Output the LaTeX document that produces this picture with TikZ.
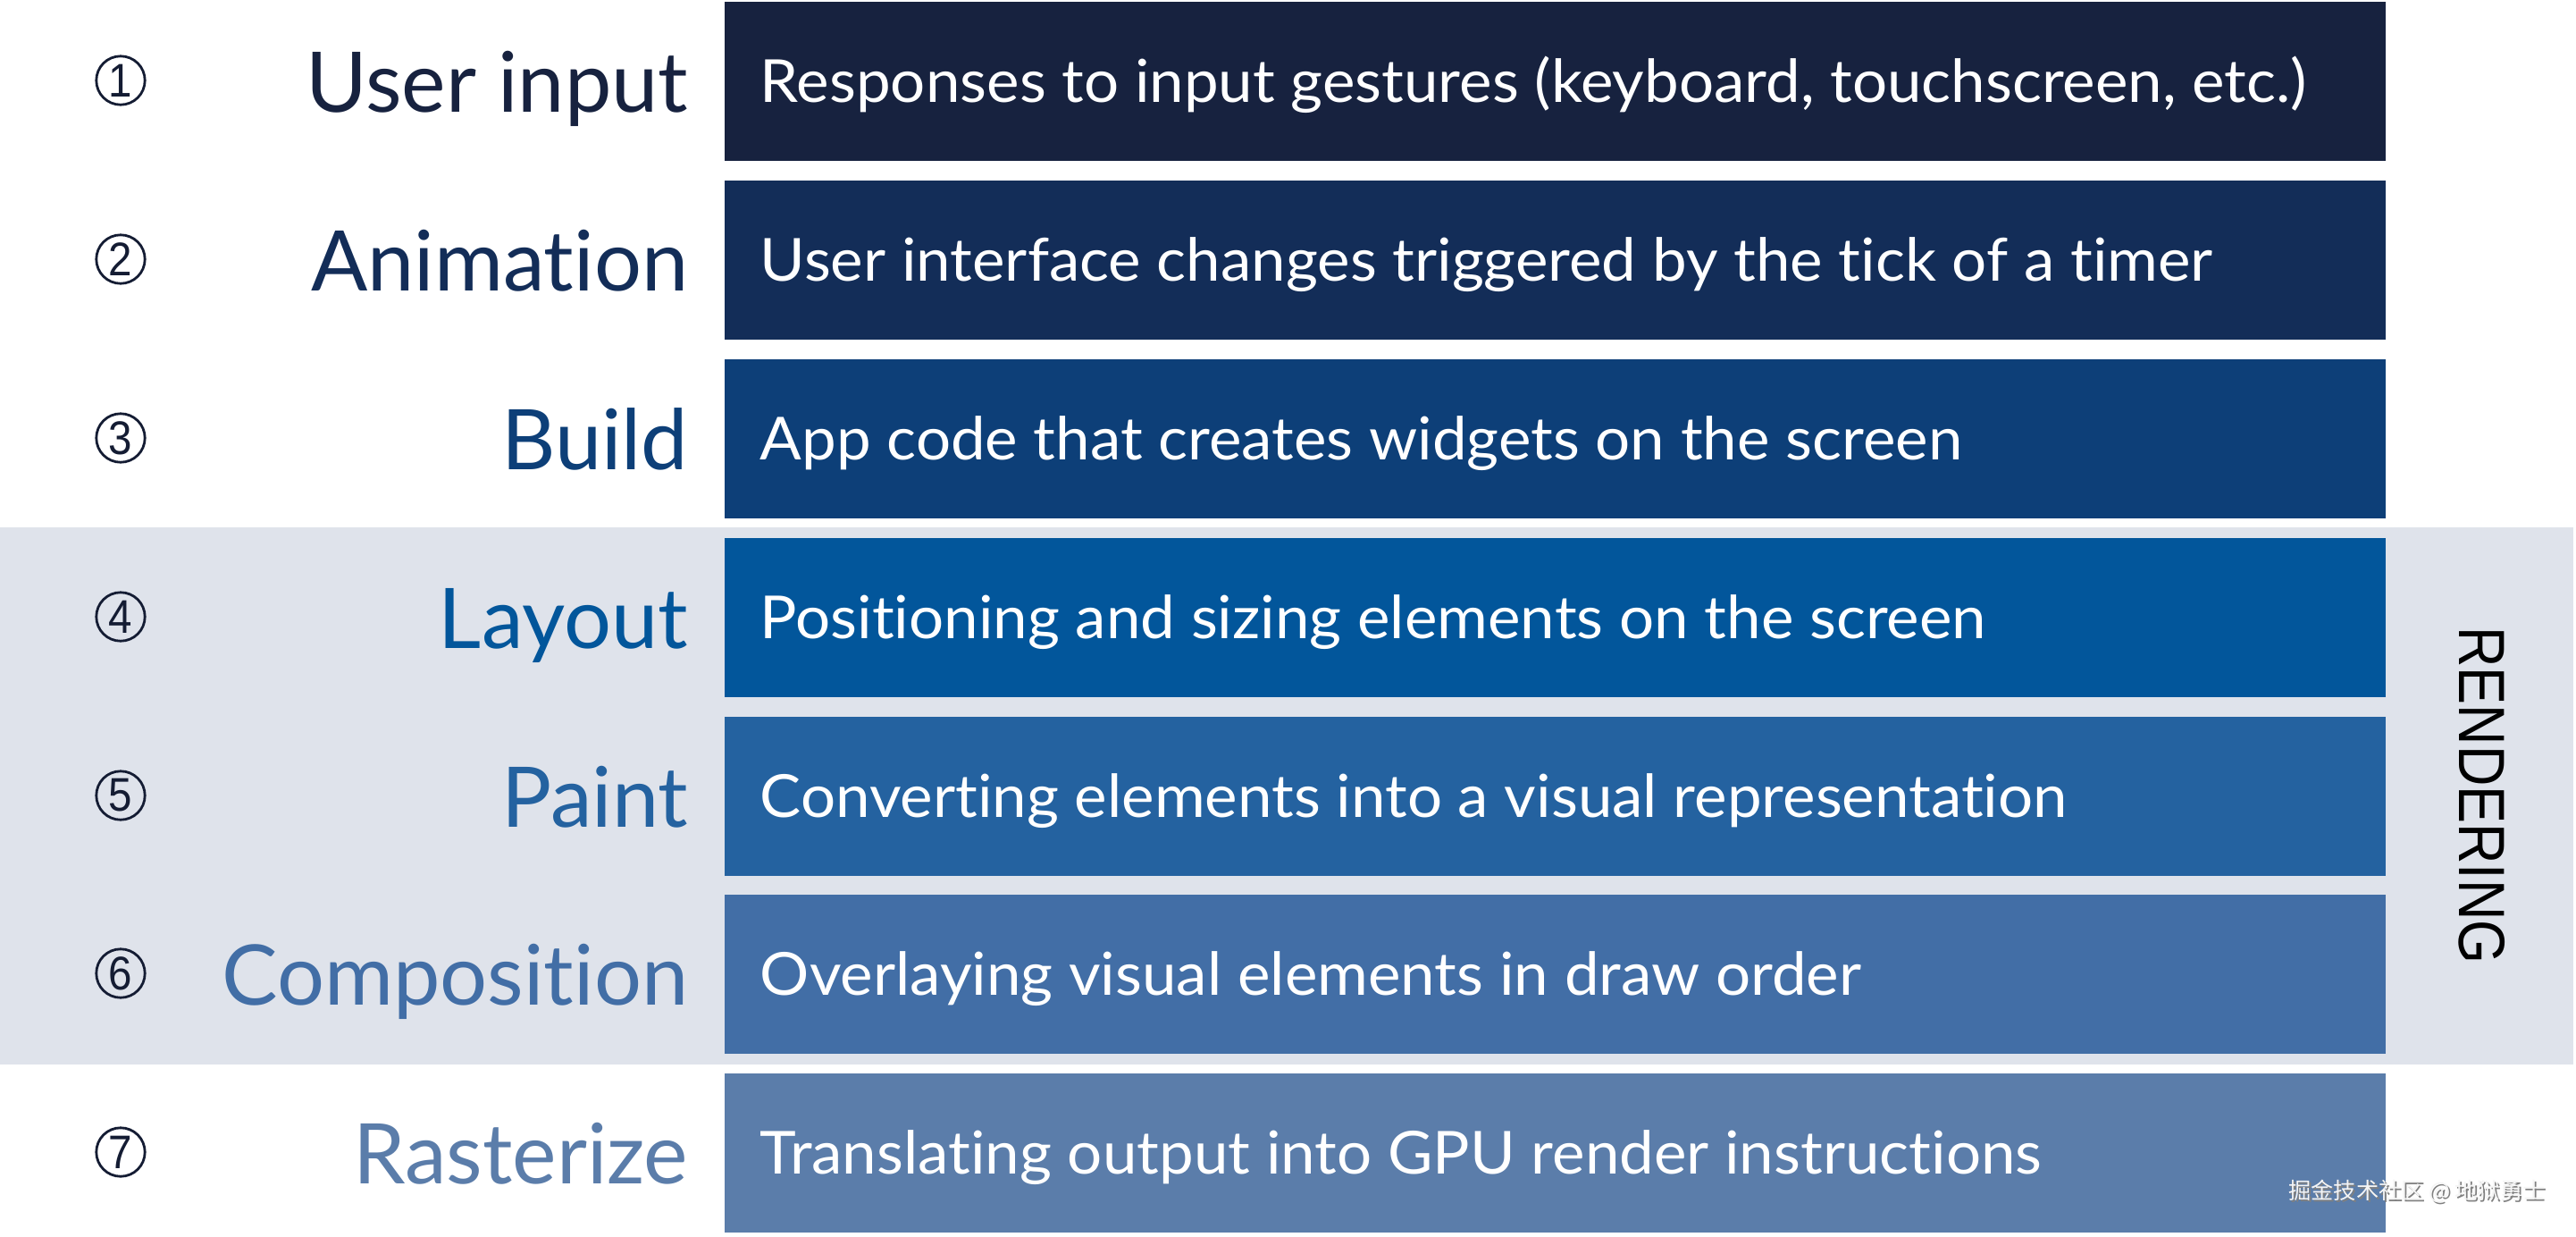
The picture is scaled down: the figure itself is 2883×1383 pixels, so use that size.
\documentclass[tikz,border=0pt]{standalone}
\usepackage{fontspec}
\setmainfont{Lato}[Ligatures={NoCommon}]
\newfontfamily\descfont{Lato}[Ligatures={NoCommon}, FakeStretch=1.04]
\newfontfamily\cjkfont{Noto Sans CJK SC}
\newfontfamily\rendfont{Liberation Sans}[FakeStretch=0.86]
\newfontfamily\digfont{Liberation Sans}[FakeStretch=0.9]
\definecolor{cA}{HTML}{17223F}
\definecolor{cB}{HTML}{132D58}
\definecolor{cC}{HTML}{0D3F78}
\definecolor{cD}{HTML}{02569B}
\definecolor{cE}{HTML}{2462A0}
\definecolor{cF}{HTML}{426EA6}
\definecolor{cG}{HTML}{5B7DAA}
\definecolor{bandgray}{HTML}{DFE3EB}
\definecolor{numcol}{HTML}{141C33}
\tikzset{
  bar/.style={draw=none, minimum width=464.75pt, minimum height=44.5pt, inner sep=0pt},
  desc/.style={anchor=base west, inner sep=0pt, text=white, font=\descfont\fontsize{16.6}{17}\selectfont},
  lbl/.style={anchor=base east, inner sep=0pt, font=\fontsize{23.4}{24}\selectfont},
  num/.style={circle, draw=numcol, line width=0.7pt, minimum size=13.6pt, inner sep=0pt, text=numcol, font=\digfont\fontsize{13.2}{13}\selectfont}
}
\begin{document}
\begin{tikzpicture}[x=0.25pt,y=-0.25pt]
\useasboundingbox (0,0) rectangle (2883,1383);
\fill[white] (0,0) rectangle (2883,1383);
\fill[bandgray] (0,590) rectangle (2880,1191);
\foreach \i/\c/\y/\l/\d in {
 1/cA/91/User input/{Responses to input gestures (keyboard, touchscreen, etc.)},
 2/cB/291/Animation/{User interface changes triggered by the tick of a timer},
 3/cC/491/Build/{App code that creates widgets on the screen},
 4/cD/691/Layout/{Positioning and sizing elements on the screen},
 5/cE/891/Paint/{Converting elements into a visual representation},
 6/cF/1090/Composition/{Overlaying visual elements in draw order},
 7/cG/1290/Rasterize/{Translating output into GPU render instructions}}
{
  \node[bar, fill=\c] (bar\i) at (1740.5,\y) {};
  \node[desc] (desc\i) at (850,{\y+23}) {\d};
  \node[lbl, text=\c] (lbl\i) at (771,{\y+34}) {\l};
  \node[num] (num\i) at (135,{\y-1}) {\i};
}
\node[rotate=-90, inner sep=0pt, font=\rendfont\fontsize{18.3}{18}\selectfont] (rend) at (2778,890) {RENDERING};
\node[inner sep=0pt, text=gray, font=\cjkfont\fontsize{6.3}{7}\selectfont] (wmshadow) at (2707,1335) {掘金技术社区 @ 地狱勇士};
\node[inner sep=0pt, text=white!92!gray, font=\cjkfont\fontsize{6.3}{7}\selectfont] (wm) at (2705,1333) {掘金技术社区 @ 地狱勇士};
\end{tikzpicture}
\end{document}
